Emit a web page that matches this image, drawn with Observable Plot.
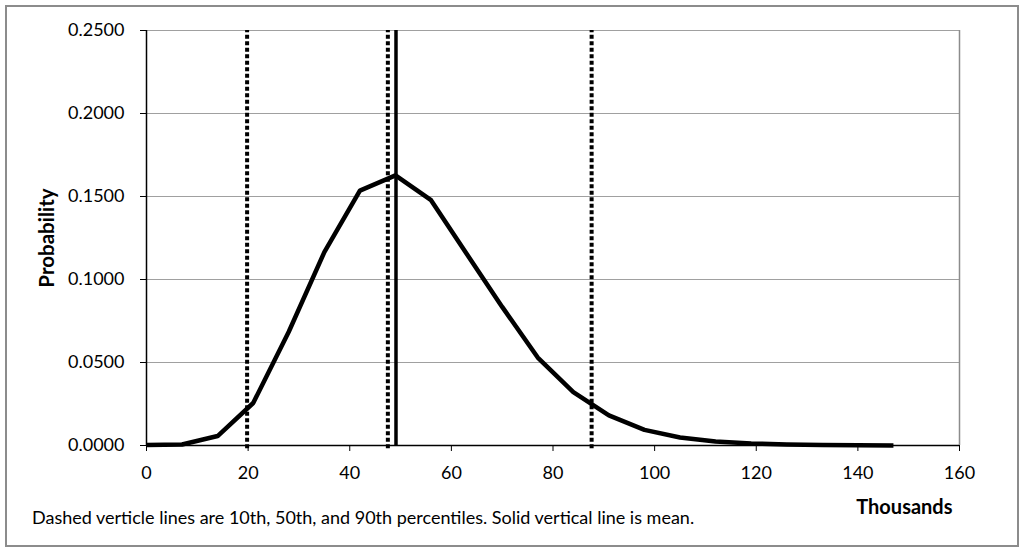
<!DOCTYPE html>
<html>
<head>
<meta charset="utf-8">
<script src="https://cdn.jsdelivr.net/npm/d3@7"></script>
<script src="https://cdn.jsdelivr.net/npm/@observablehq/plot@0.6"></script>
<style>
  html, body { margin: 0; padding: 0; background: white; }
  #wrap { position: relative; width: 1024px; height: 551px; overflow: hidden; font-family: Lato, "Open Sans", sans-serif; }
  #border { position: absolute; left: 5px; top: 5px; width: 1010px; height: 538px; border: 2px solid #8c8c8c; pointer-events: none; }
  #chart { position: absolute; left: 0; top: 0; }
  #caption { position: absolute; left: 32px; top: 506px; font-size: 18px; line-height: 22px; color: #000; white-space: nowrap; }
</style>
</head>
<body>
<div id="wrap">
  <div id="chart"></div>
  <div id="caption">Dashed verticle lines are 10th, 50th, and 90th percentiles. Solid vertical line is mean.</div>
  <div id="border"></div>
</div>
<script>
const thousands = [0, 7, 14, 21, 28, 35, 42, 49, 56, 63, 70, 77, 84, 91, 98, 105, 112, 119, 126, 133, 140, 147];
const probability = [0.0003, 0.0006, 0.0057, 0.0256, 0.0685, 0.1165, 0.1535, 0.1627, 0.1478, 0.1155, 0.0835, 0.0530, 0.0321, 0.0181, 0.0094, 0.0048, 0.0024, 0.0012, 0.0006, 0.0003, 0.0001, 0.0000];
const percentiles = [19.8, 47.5, 87.6];
const mean = [49.1];
const xTicks = [0, 20, 40, 60, 80, 100, 120, 140, 160];
const yTicks = [0, 0.05, 0.10, 0.15, 0.20, 0.25];
const xLabel = "Thousands";
const yLabel = "Probability";

const data = thousands.map((x, i) => ({x, y: probability[i]}));

const chart = Plot.plot({
  width: 1024,
  height: 528,
  marginTop: 30,
  marginLeft: 146,
  marginRight: 65,
  marginBottom: 83,
  style: {fontFamily: "Lato, 'Open Sans', sans-serif", fontSize: "18px", color: "#000", background: "transparent"},
  x: {domain: [0, 160]},
  y: {domain: [0, 0.25]},
  marks: [
    Plot.ruleY(yTicks.filter(d => d > 0), {stroke: "#a0a0a0", strokeWidth: 1}),
    Plot.ruleX([160], {stroke: "#8c8c8c", strokeWidth: 1.5}),
    Plot.axisX({ticks: xTicks, tickSize: 6, tickPadding: 15, tickFormat: d => String(d), label: null, fontSize: 18}),
    Plot.axisY({ticks: yTicks, tickSize: 6, tickPadding: 16, tickFormat: d3.format(".4f"), label: null, fontSize: 18}),
    Plot.ruleX([0], {stroke: "#000", strokeWidth: 1.5}),
    Plot.ruleY([0], {stroke: "#000", strokeWidth: 1.5}),
    Plot.ruleX(percentiles, {y1: -0.002, y2: 0.25, stroke: "#000", strokeWidth: 4, strokeDasharray: "4,2.5"}),
    Plot.ruleX(mean, {stroke: "#000", strokeWidth: 3.5}),
    Plot.line(data, {x: "x", y: "y", stroke: "#000", strokeWidth: 4.5, strokeLinejoin: "round", strokeLinecap: "butt"}),
    Plot.text([yLabel], {frameAnchor: "left", dx: -99, textAnchor: "middle", lineAnchor: "middle", rotate: -90, text: d => d, fontWeight: "bold", fontSize: 20.5, fill: "#000"}),
    Plot.text([xLabel], {frameAnchor: "bottom-right", dx: -7, dy: 62, textAnchor: "end", lineAnchor: "middle", text: d => d, fontWeight: "bold", fontSize: 20, fill: "#000"})
  ]
});
document.getElementById("chart").appendChild(chart);
</script>
</body>
</html>
